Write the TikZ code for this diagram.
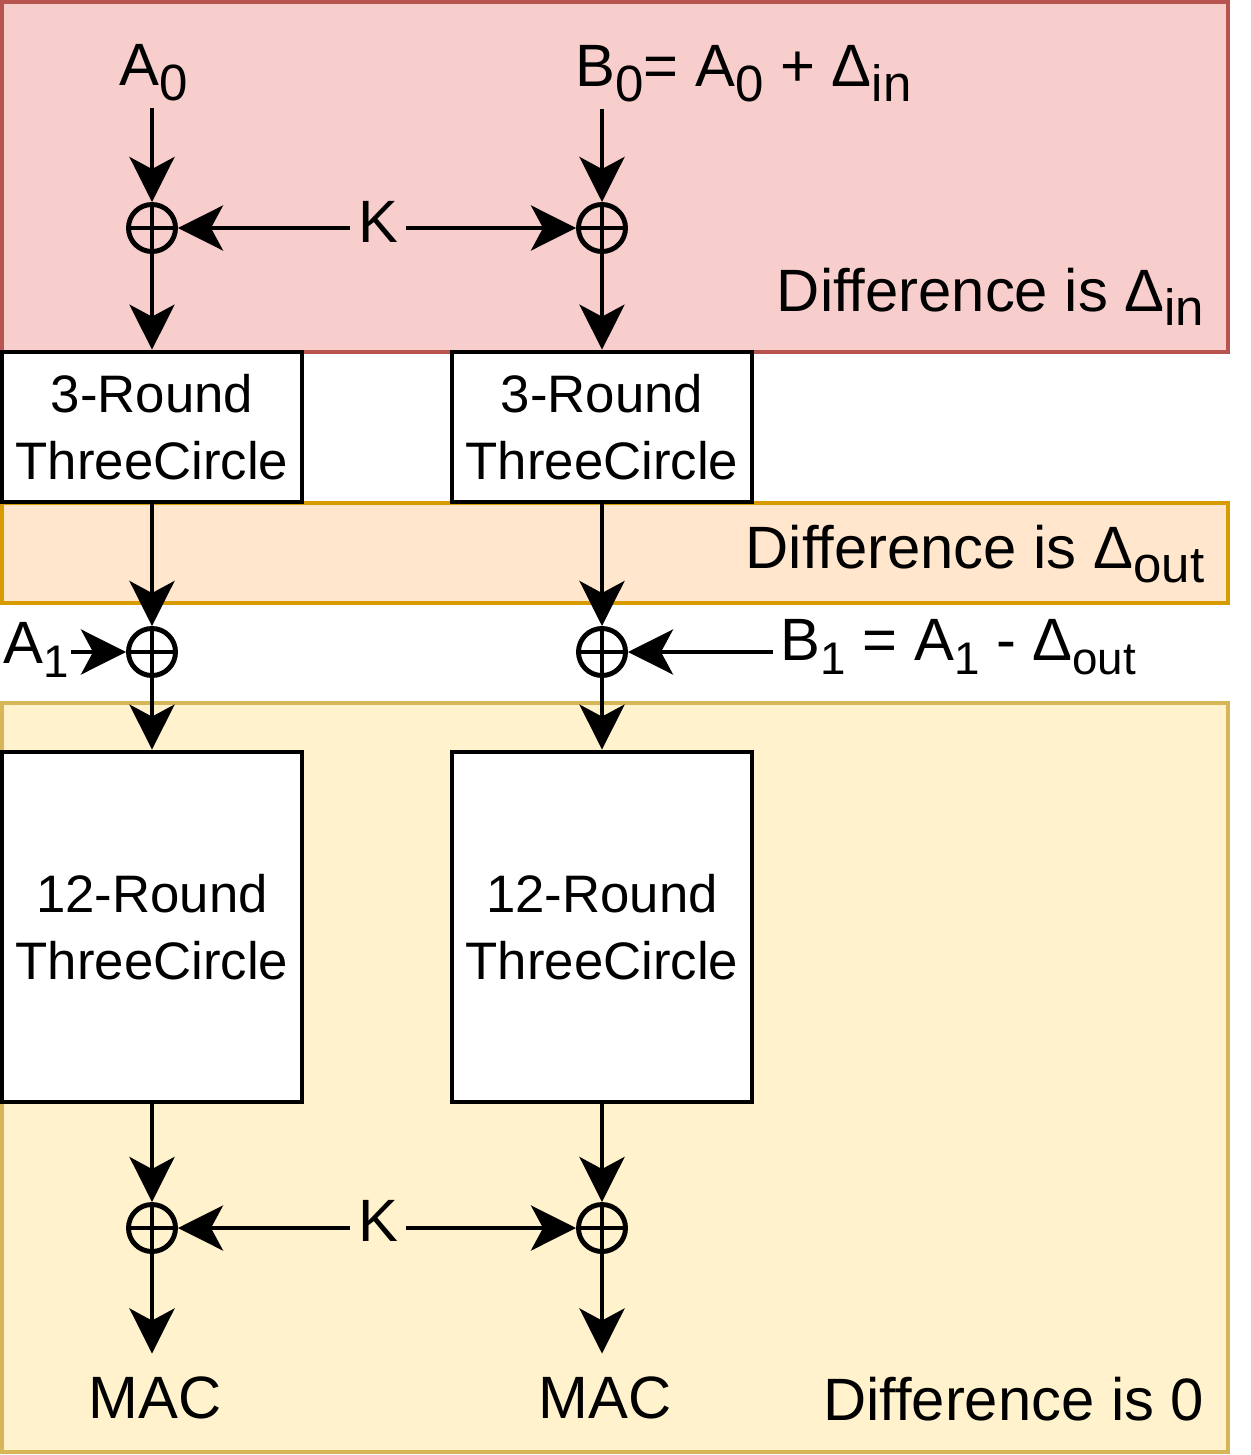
\documentclass[tikz,border=0pt]{standalone}
\usepackage{fontspec}
\setmainfont{Liberation Sans}
\usetikzlibrary{arrows.meta}
\definecolor{redfill}{HTML}{F8CECC}
\definecolor{redline}{HTML}{B85450}
\definecolor{orangefill}{HTML}{FFE6CC}
\definecolor{orangeline}{HTML}{D79B00}
\definecolor{yellowfill}{HTML}{FFF2CC}
\definecolor{yellowline}{HTML}{D6B656}
\newcommand{\lsub}[1]{\raisebox{-4pt}{\fontsize{14.5}{14}\selectfont #1}}
\newcommand{\ssub}[1]{\raisebox{-4pt}{\fontsize{13}{13}\selectfont #1}}

\begin{document}
\begin{tikzpicture}[x=0.01cm,y=-0.01cm,
                    arr/.style={-{Stealth[length=4.5mm,width=4.5mm,inset=1.2mm]},line width=1.2pt},
                    region/.style={line width=1.3pt},
                    roundbox/.style={draw,fill=white,line width=1.3pt,minimum width=3cm,
                      minimum height=1.5cm,inner sep=0pt,align=center,
                      font=\fontsize{15}{19}\selectfont},
                    xor/.style={circle,draw,line width=1.4pt,minimum size=4.7mm,inner sep=0pt,
                      path picture={\draw[line width=1.1pt]
                        (path picture bounding box.north) -- (path picture bounding box.south)
                        (path picture bounding box.west) -- (path picture bounding box.east);}},
                    lbl/.style={inner sep=2pt,font=\fontsize{17}{20}\selectfont}]
  \fill[white] (0,0) rectangle (1250,1455);
  \useasboundingbox (0,0) rectangle (1250,1455);
  % difference regions
  \draw[region,draw=redline,fill=redfill] (2,2) rectangle (1228,352);
  \draw[region,draw=orangeline,fill=orangefill] (2,503) rectangle (1228,603);
  \draw[region,draw=yellowline,fill=yellowfill] (2,703) rectangle (1228,1452);
  % rounds
  \node[roundbox] (r3a) at (152,427) {3-Round\\ThreeCircle};
  \node[roundbox] (r3b) at (602,427) {3-Round\\ThreeCircle};
  \node[roundbox,minimum height=3.5cm] (r12a) at (152,927) {12-Round\\ThreeCircle};
  \node[roundbox,minimum height=3.5cm] (r12b) at (602,927) {12-Round\\ThreeCircle};
  % xors
  \node[xor] (xa0) at (152,228) {};
  \node[xor] (xb0) at (602,228) {};
  \node[xor] (xa1) at (152,652) {};
  \node[xor] (xb1) at (602,652) {};
  \node[xor] (xa2) at (152,1228) {};
  \node[xor] (xb2) at (602,1228) {};
  % labels
  \node[lbl,anchor=base] (a0) at (154,86) {A\lsub{0}};
  \node[lbl,anchor=base west] (b0) at (568,87) {B\lsub{0}= A\lsub{0} + Δ\lsub{in}};
  \node[lbl,anchor=base] (k0) at (378,243) {K};
  \node[lbl,anchor=base west,inner sep=0.5pt] (a1) at (1,663) {A\ssub{1}};
  \node[lbl,anchor=base west] (b1) at (773,660) {B\ssub{1} = A\ssub{1} - Δ\ssub{out}};
  \node[lbl,anchor=base] (k2) at (378,1241) {K};
  \node[lbl,anchor=base] (mac1) at (155,1418) {MAC};
  \node[lbl,anchor=base] (mac2) at (605,1418) {MAC};
  \node[lbl,anchor=base east] (din) at (1212,311) {Difference is Δ\lsub{in}};
  \node[lbl,anchor=base east] (dout) at (1212,568) {Difference is Δ\lsub{out}};
  \node[lbl,anchor=base east] (dzero) at (1212,1420) {Difference is 0};
  % flow
  \draw[arr] (xa0 |- a0.south) -- (xa0);
  \draw[arr] (xb0 |- b0.south) -- (xb0);
  \draw[arr] (k0.west |- xa0) -- (xa0);
  \draw[arr] (k0.east |- xb0) -- (xb0);
  \draw[arr] (xa0) -- (r3a);
  \draw[arr] (xb0) -- (r3b);
  \draw[arr] (r3a) -- (xa1);
  \draw[arr] (r3b) -- (xb1);
  \draw[arr] (a1.east |- xa1) -- (xa1);
  \draw[arr] (b1.west |- xb1) -- (xb1);
  \draw[arr] (xa1) -- (r12a);
  \draw[arr] (xb1) -- (r12b);
  \draw[arr] (r12a) -- (xa2);
  \draw[arr] (r12b) -- (xb2);
  \draw[arr] (k2.west |- xa2) -- (xa2);
  \draw[arr] (k2.east |- xb2) -- (xb2);
  \draw[arr,shorten >=1.5mm] (xa2) -- (xa2 |- mac1.north);
  \draw[arr,shorten >=1.5mm] (xb2) -- (xb2 |- mac2.north);
\end{tikzpicture}
\end{document}
